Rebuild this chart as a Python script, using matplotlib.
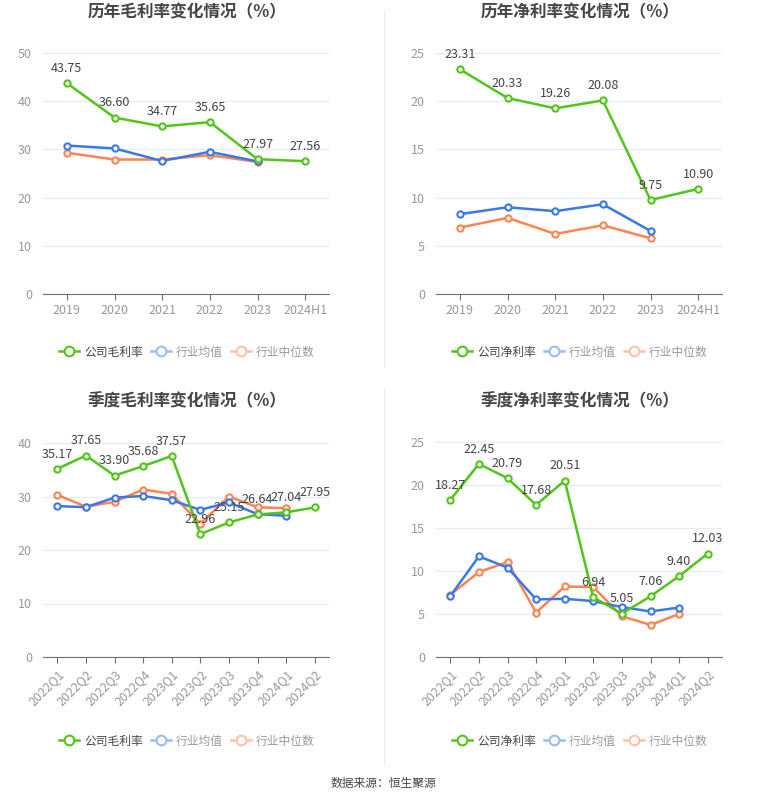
import matplotlib
matplotlib.use("Agg")
import matplotlib.pyplot as plt
from matplotlib.lines import Line2D

plt.rcParams['font.family'] = ['Noto Sans CJK SC', 'DejaVu Sans']

years = ['2019', '2020', '2021', '2022', '2023', '2024H1']
quarters = ['2022Q1', '2022Q2', '2022Q3', '2022Q4', '2023Q1',
            '2023Q2', '2023Q3', '2023Q4', '2024Q1', '2024Q2']

# annual gross margin
year_gross = [43.75, 36.60, 34.77, 35.65, 27.97, 27.56]
year_gross_avg = [30.8, 30.2, 27.6, 29.5, 27.5]
year_gross_med = [29.3, 27.9, 27.9, 28.8, 27.4]

# annual net margin
year_net = [23.31, 20.33, 19.26, 20.08, 9.75, 10.90]
year_net_avg = [8.28, 9.0, 8.59, 9.31, 6.54]
year_net_med = [6.89, 7.9, 6.23, 7.13, 5.78]

# quarterly gross margin
q_gross = [35.17, 37.65, 33.90, 35.68, 37.57, 22.96, 25.15, 26.64, 27.04, 27.95]
q_gross_avg = [28.2, 28.0, 29.8, 30.1, 29.3, 27.5, 28.9, 26.7, 26.4]
q_gross_med = [30.3, 28.1, 29.0, 31.3, 30.5, 24.9, 30.0, 28.0, 27.8]

# quarterly net margin
q_net = [18.27, 22.45, 20.79, 17.68, 20.51, 6.94, 5.05, 7.06, 9.40, 12.03]
q_net_avg = [7.08, 11.7, 10.4, 6.7, 6.77, 6.5, 5.8, 5.3, 5.75]
q_net_med = [7.23, 9.88, 11.04, 5.17, 8.2, 8.13, 4.74, 3.73, 5.0]

GREEN = '#52c41a'
BLUE = '#3b78e7'
ORANGE = '#fc8452'
W, H = 765, 801

fig = plt.figure(figsize=(W / 100, H / 100), dpi=100)


def px_axes(left, top, right, bottom):
    return fig.add_axes([left / W, 1 - bottom / H, (right - left) / W, (bottom - top) / H])


def draw_panel(ax, cats, comp, avg, med, ymax, title, comp_name, rotate, title_y, legend_y, cx):
    x = list(range(len(cats)))
    mk = dict(marker='o', markersize=4.5, markerfacecolor='white', markeredgewidth=1.5)
    ax.plot(x[:len(med)], med, color=ORANGE, lw=1.8, markeredgecolor=ORANGE, zorder=3, **mk)
    ax.plot(x[:len(avg)], avg, color=BLUE, lw=1.8, markeredgecolor=BLUE, zorder=4, **mk)
    ax.plot(x, comp, color=GREEN, lw=1.8, markeredgecolor=GREEN, zorder=5, **mk)
    for xi, v in zip(x, comp):
        ax.annotate(f'{v:.2f}', (xi, v), xytext=(0, 6), textcoords='offset points',
                    ha='center', va='bottom', fontsize=9, color='#444444', zorder=6)
    ax.set_xlim(-0.5, len(cats) - 0.5)
    ax.set_ylim(0, ymax)
    step = 10 if ymax > 25 else 5
    ax.set_yticks(range(0, ymax + 1, step))
    ax.grid(axis='y', color='#e6ebf5', lw=0.9)
    ax.set_axisbelow(True)
    for s in ['top', 'right', 'left']:
        ax.spines[s].set_visible(False)
    ax.spines['bottom'].set_color('#6e7079')
    ax.tick_params(axis='y', length=0, labelsize=9, labelcolor='#999999', pad=8)
    ax.tick_params(axis='x', length=4, color='#6e7079', labelsize=9, labelcolor='#999999')
    ax.set_xticks(x)
    if rotate:
        ax.set_xticklabels(cats, rotation=45, ha='right', rotation_mode='anchor')
    else:
        ax.set_xticklabels(cats)
    fig.text(cx / W, 1 - title_y / H, title, ha='center', va='center',
             fontsize=12, fontweight='bold', color='#464646')
    handles = [
        Line2D([0], [0], color=GREEN, lw=1.8, marker='o', markersize=7,
               markerfacecolor='white', markeredgewidth=1.5),
        Line2D([0], [0], color='#9bbcf5', lw=1.8, marker='o', markersize=7,
               markerfacecolor='white', markeredgewidth=1.5),
        Line2D([0], [0], color='#fdc2a8', lw=1.8, marker='o', markersize=7,
               markerfacecolor='white', markeredgewidth=1.5),
    ]
    leg = fig.legend(handles, [comp_name, '行业均值', '行业中位数'], loc='center',
                     bbox_to_anchor=(cx / W, 1 - legend_y / H), ncol=3, frameon=False,
                     fontsize=8.5, handlelength=1.7, columnspacing=0.7, handletextpad=0.4)
    texts = leg.get_texts()
    texts[0].set_color('#444444')
    texts[1].set_color('#999999')
    texts[2].set_color('#999999')


ax1 = px_axes(43, 53, 329, 294)
draw_panel(ax1, years, year_gross, year_gross_avg, year_gross_med, 50,
           '历年毛利率变化情况（%）', '公司毛利率', False, 12, 352, 187)

ax2 = px_axes(436, 53, 722, 294)
draw_panel(ax2, years, year_net, year_net_avg, year_net_med, 25,
           '历年净利率变化情况（%）', '公司净利率', False, 12, 352, 580)

ax3 = px_axes(43, 443, 329, 657)
draw_panel(ax3, quarters, q_gross, q_gross_avg, q_gross_med, 40,
           '季度毛利率变化情况（%）', '公司毛利率', True, 401, 741, 187)

ax4 = px_axes(436, 442, 722, 657)
draw_panel(ax4, quarters, q_net, q_net_avg, q_net_med, 25,
           '季度净利率变化情况（%）', '公司净利率', True, 401, 741, 580)

# divider between left and right panels
fig.add_artist(Line2D([384 / W, 384 / W], [1 - 10 / H, 1 - 366 / H], color='#ececec', lw=0.8))
fig.add_artist(Line2D([384 / W, 384 / W], [1 - 388 / H, 1 - 765 / H], color='#ececec', lw=0.8))

fig.text(383 / W, 1 - 783 / H, '数据来源：恒生聚源', ha='center', va='center',
         fontsize=8.5, color='#444444')

fig.savefig('out.png', dpi=100, facecolor='white')
